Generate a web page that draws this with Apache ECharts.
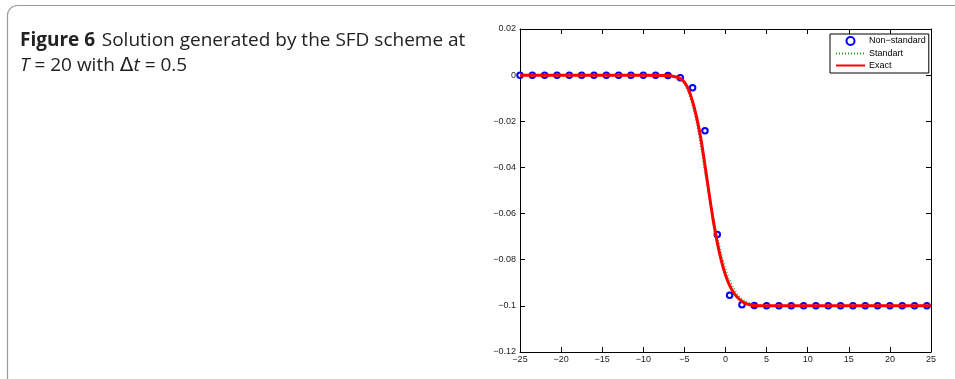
<!DOCTYPE html>
<html>
<head>
<meta charset="utf-8">
<script src="https://cdn.jsdelivr.net/npm/echarts@6/dist/echarts.min.js"></script>
<style>
  html, body { margin: 0; padding: 0; background: #fff; }
  #chart { width: 955px; height: 379px; }
</style>
</head>
<body>
<div id="chart"></div>
<script>
// Non-standard scheme samples (every 1.5 units in x)
const nonStdX = [-25, -23.5, -22, -20.5, -19, -17.5, -16, -14.5, -13, -11.5, -10, -8.5, -7, -5.5, -4, -2.5,
  -1, 0.5, 2, 3.5, 5, 6.5, 8, 9.5, 11, 12.5, 14, 15.5, 17, 18.5, 20, 21.5, 23, 24.5];
const nonStdY = [0, 0, 0, 0, 0, 0, 0, 0, 0, 0, 0, 0, -0.0002, -0.0011, -0.0055, -0.0241,
  -0.0691, -0.0954, -0.0995, -0.0998, -0.1, -0.1, -0.1, -0.1, -0.1, -0.1, -0.1, -0.1, -0.1, -0.1, -0.1, -0.1, -0.1, -0.1];

// Standard scheme and exact solution, sampled on a common x grid
const curveX = [-25, -10, -7, -6, -5.5, -5, -4.5, -4, -3.5, -3, -2.5, -2, -1.5, -1, -0.5, 0, 0.5, 1, 1.5, 2, 2.5, 3, 3.5, 4, 5, 7, 25];
const stdY = [0, -0.0001, -0.0003, -0.001, -0.0019, -0.004, -0.008, -0.014, -0.0215, -0.0315, -0.043, -0.0515,
  -0.0605, -0.0695, -0.077, -0.0835, -0.0885, -0.0922, -0.095, -0.0968, -0.098, -0.0988, -0.0994, -0.0997, -0.1, -0.1, -0.1];
const exactY = [0, 0, -0.0002, -0.0008, -0.0015, -0.003, -0.0062, -0.0115, -0.0185, -0.0275, -0.039, -0.0512,
  -0.0628, -0.0726, -0.0805, -0.0866, -0.0911, -0.0943, -0.0965, -0.098, -0.099, -0.0995, -0.0998, -0.0999, -0.1, -0.1, -0.1];

const seriesNames = ['Non\u2212standard', 'Standart', 'Exact'];
const xRange = { min: -25, max: 25, step: 5 };
const yRange = { min: -0.12, max: 0.02, step: 0.02 };

const captionLine1 = ['Figure 6', 'Solution generated by the SFD scheme at'];
const captionLine2 = ['T', ' = 20 with ', '\u0394', 't', ' = 0.5'];

const pairs = (xs, ys) => xs.map((x, i) => [x, ys[i]]);
const fmt = v => {
  const n = parseFloat(Number(v).toFixed(2));
  return n === 0 ? '0' : String(n).replace('-', '\u2212');
};

const labelFont = { fontFamily: 'Liberation Sans', fontSize: 9, color: '#222' };
const axisLine = { show: true, onZero: false, lineStyle: { color: '#000', width: 1 } };
const tick = { show: true, inside: true, length: 5, lineStyle: { color: '#000' } };

const chart = echarts.init(document.getElementById('chart'), null, { renderer: 'canvas' });
chart.setOption({
  animation: false,
  backgroundColor: '#fff',
  grid: { left: 520, right: 24, top: 29, bottom: 27 },
  xAxis: [
    { type: 'value', position: 'bottom', min: xRange.min, max: xRange.max, interval: xRange.step,
      axisLine, axisTick: tick, splitLine: { show: false },
      axisLabel: Object.assign({ margin: 3, formatter: fmt }, labelFont) },
    { type: 'value', position: 'top', min: xRange.min, max: xRange.max, interval: xRange.step,
      axisLine, axisTick: tick, splitLine: { show: false }, axisLabel: { show: false } }
  ],
  yAxis: [
    { type: 'value', position: 'left', min: yRange.min, max: yRange.max, interval: yRange.step,
      axisLine, axisTick: tick, splitLine: { show: false },
      axisLabel: Object.assign({ margin: 4, formatter: fmt }, labelFont) },
    { type: 'value', position: 'right', min: yRange.min, max: yRange.max, interval: yRange.step,
      axisLine, axisTick: tick, splitLine: { show: false }, axisLabel: { show: false } }
  ],
  legend: {
    data: [
      { name: seriesNames[0], icon: 'emptyCircle' },
      { name: seriesNames[1], itemStyle: { opacity: 0 } },
      { name: seriesNames[2], itemStyle: { opacity: 0 } }
    ],
    orient: 'vertical',
    left: 830, top: 34,
    padding: [2, 3, 3, 5],
    itemWidth: 29, itemHeight: 8, itemGap: 3,
    backgroundColor: '#fff',
    borderColor: '#000', borderWidth: 1, borderRadius: 0,
    textStyle: { fontFamily: 'Liberation Sans', fontSize: 9, color: '#000', padding: [0, 0, 0, -1] },
    selectedMode: false
  },
  series: [
    { name: seriesNames[0], type: 'scatter', data: pairs(nonStdX, nonStdY),
      symbol: 'emptyCircle', symbolSize: 5.5,
      itemStyle: { color: '#0000ff', borderColor: '#0000ff', borderWidth: 3, opacity: 1 }, z: 2 },
    { name: seriesNames[1], type: 'line', data: pairs(curveX, stdY), showSymbol: false, symbol: 'none',
      smooth: 0.3,
      itemStyle: { color: '#22a022' },
      lineStyle: { color: '#22a022', width: 1.2, type: [1, 2] }, z: 3 },
    { name: seriesNames[2], type: 'line', data: pairs(curveX, exactY), showSymbol: false, symbol: 'none',
      smooth: 0.3,
      itemStyle: { color: '#ff0000' },
      lineStyle: { color: '#ff0000', width: 3 }, z: 4 }
  ],
  graphic: [
    { type: 'rect', silent: true, z: 0,
      shape: { x: 7.5, y: 5.5, width: 1000, height: 1000, r: 10 },
      style: { fill: 'none', stroke: '#9a9a9a', lineWidth: 1.2 } },
    { type: 'text', left: 20, top: 31, z: 10,
      style: {
        text: '{b|' + captionLine1[0] + '}  {r|' + captionLine1[1] + '}',
        rich: {
          b: { fontFamily: 'Open Sans', fontWeight: 'bold', fontSize: 19, fill: '#222' },
          r: { fontFamily: 'Open Sans', fontSize: 19, fill: '#222' }
        }
      } },
    { type: 'text', left: 20, top: 56, z: 10,
      style: {
        text: '{i|' + captionLine2[0] + '}{r|' + captionLine2[1] + '}{d|' + captionLine2[2] + '}{i|' +
          captionLine2[3] + '}{r|' + captionLine2[4] + '}',
        rich: {
          i: { fontFamily: 'Open Sans', fontStyle: 'italic', fontSize: 19, fill: '#222' },
          r: { fontFamily: 'Open Sans', fontSize: 19, fill: '#222' },
          d: { fontFamily: 'DejaVu Sans', fontSize: 20, fill: '#222' }
        }
      } }
  ]
});
</script>
</body>
</html>
